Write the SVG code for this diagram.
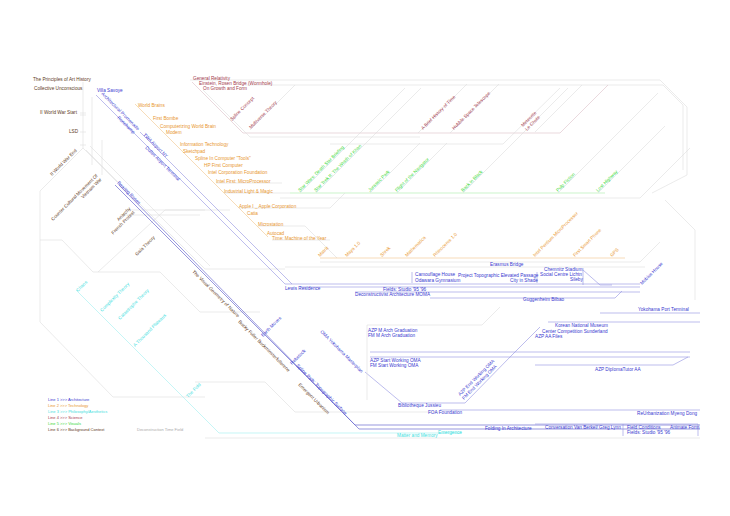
<svg xmlns="http://www.w3.org/2000/svg" width="730" height="516" viewBox="0 0 730 516">
<style>
text{font-family:"Liberation Sans",Arial,sans-serif;font-size:4.7px}
.b{fill:#3838d0}.o{fill:#e8962e}.c{fill:#40e0e0}.s{fill:#a33a4c}.g{fill:#38d838}.k{fill:#603a1c}.n{fill:#aaaaaa}
.lg{font-size:4px}
.gl{stroke:#dedede;stroke-width:0.6;fill:none}
.bl{stroke:#9090e0;stroke-width:0.6;fill:none}
.bd{stroke:#6a6ad0;stroke-width:0.7;fill:none}
.ol{stroke:#f2c48a;stroke-width:0.6;fill:none}
.cl{stroke:#a0f0f0;stroke-width:0.6;fill:none}
.sl{stroke:#dcc0c8;stroke-width:0.6;fill:none}
.grl{stroke:#a8eca8;stroke-width:0.6;fill:none}
</style>
<rect width="730" height="516" fill="#ffffff"/>
<g id="connectors">
<path class="gl" d="M83,82 V148 L40,191 V322 L113,397 H205"/>
<path class="gl" d="M83,148 L117,182 M92,97 V165 M102,140 V175"/>
<path class="gl" d="M80,113 H86 M80,115 H86 M80,132 H86 M80,145 H86"/>
<path class="gl" d="M40,240 H62 L93,272 H160 L200,312 H260"/>
<path class="gl" d="M98,272 L165,210 H230 M120,215 H200 M125,210 H205"/>
<path class="gl" d="M86,150 L205,269 H285 M90,146 L210,266"/>
<path class="gl" d="M190,80 H660 L687,107 V175 L652,193"/>
<path class="gl" d="M245,85 H663 L683,105 V170"/>
<path class="sl" d="M192,82 L243,133 H560 L608,85"/>
<path class="gl" d="M203,90 L250,137 H420"/>
<path class="gl" d="M250,130 L295,85 M418,133 L467,84 M450,133 L499,84 M535,132 L582,85"/>
<path class="gl" d="M330,144 H503 L560,88"/>
<path class="grl" d="M290,193 H605"/>
<path class="gl" d="M300,193 L405,88 M316,193 L421,88 M370,193 L420,143 M397,193 L447,143 M463,193 L568,88 M558,193 L658,93 M598,193 L665,126"/>
<path class="gl" d="M280,198 H640 L690,148"/>
<path class="ol" d="M135,104 L268,237"/>
<path class="gl" d="M224,193 H290 M216,183 H282 M239,208 H330 L345,193 M258,226 H305 L337,258 M272,240 H330"/>
<path class="ol" d="M320,258 H625"/>
<path class="gl" d="M320,262 H640 L660,242 M285,267 H645 M665,200 L695,230 V300"/>
<path class="bl" d="M96,95 L285,284 H640"/>
<path class="bl" d="M140,132 L292,284"/>
<path class="bd" d="M115,185 L355,425 H700 M119,185 L359,429 H700"/>
<path class="bl" d="M300,287 H640 M355,292 H640 M430,298 H615 L622,291 M600,313 H700 M548,322 H700 M370,352 H690 M370,357 H690 M535,365 H673 L688,357 M440,410 H700"/>
<path class="bl" d="M412,272 V283 M537,272 V283 M583,268 V285 M583,270 L600,285 H612"/>
<path class="bl" d="M365,372 L402,403 H465 L512,355 L540,327"/>
<path class="gl" d="M367,325 H482 L500,307 M367,325 V400"/>
<path class="gl" d="M195,382 H265 L295,412 H440"/>
<path class="cl" d="M76,290 L219,433 H462"/>
<path class="gl" d="M205,438 H700"/>
<path class="bl" d="M623,424 V436 M698,424 V436 M535,424 H698"/>
</g>
<g id="n-context">
<text class="k" x="33" y="81">The Principles of Art History</text>
<text class="k" x="34" y="90">Collective Unconscious</text>
<text class="k" x="40" y="114">II World War Start</text>
<text class="k" x="69" y="133">LSD</text>
<text class="k" transform="translate(52,176) rotate(-45)">II World War End</text>
<g transform="translate(98,176) rotate(-45)"><text class="k" text-anchor="end">Counter Cultural Movement Of</text><text class="k" text-anchor="end" y="5.5">Vietnam War</text></g>
<g transform="translate(131,209) rotate(-45)"><text class="k" text-anchor="end">Anarchy</text><text class="k" text-anchor="end" y="5.5">French Protest</text></g>
<text class="k" transform="translate(137,256) rotate(-45)">Gaia Theory</text>
<text class="k" transform="translate(192,272) rotate(45)">The Visual Geometry of Nature</text>
<text class="k" transform="translate(238,322) rotate(45)">Bucky Fuller Buckminsterfullerene</text>
<text class="k" transform="translate(298,385) rotate(45)">Emergent Urbanism</text>
</g>
<g id="n-science">
<text class="s" x="193" y="80">General Relativity</text>
<text class="s" x="199" y="85">Einstein, Rosen Bridge (Wormhole)</text>
<text class="s" x="203" y="90">On Growth and Form</text>
<text class="s" transform="translate(232,121) rotate(-45)">Spline Concept</text>
<text class="s" transform="translate(251,129) rotate(-45)">Multiverse Theory</text>
<text class="s" transform="translate(423,130) rotate(-45)">A Brief History of Time</text>
<text class="s" transform="translate(454,130) rotate(-45)">Hubble Space Telescope</text>
<g transform="translate(523,127) rotate(-45)"><text class="s">Meteorite</text><text class="s" y="5.5">Le Chute</text></g>
</g>
<g id="n-tech">
<text class="o" x="138" y="107">World Brains</text>
<text class="o" x="153" y="120">First Bombe</text>
<text class="o" x="160" y="128">Computerizing World Brain</text>
<text class="o" x="166" y="134">Modem</text>
<text class="o" x="180" y="146">Information Technology</text>
<text class="o" x="183" y="153">Sketchpad</text>
<text class="o" x="195" y="160">Spline In Computer "Tools"</text>
<text class="o" x="204" y="167">HP First Computer</text>
<text class="o" x="208" y="174">Intel Corporation Foundation</text>
<text class="o" x="216" y="183">Intel First: MicroProcessor</text>
<text class="o" x="224" y="193">Industrial Light &amp; Magic</text>
<text class="o" x="239" y="208">Apple I _ Apple Corporation</text>
<text class="o" x="247" y="215">Catia</text>
<text class="o" x="258" y="226">Microstation</text>
<text class="o" x="267" y="235">Autocad</text>
<text class="o" x="272" y="240">Time: Machine of the Year</text>
<text class="o" transform="translate(320,257) rotate(-45)">Matrix</text>
<text class="o" transform="translate(347,257) rotate(-45)">Maya 1.0</text>
<text class="o" transform="translate(382,257) rotate(-45)">Shrek</text>
<text class="o" transform="translate(407,257) rotate(-45)">Mathematica</text>
<text class="o" transform="translate(435,257) rotate(-45)">Rhinoceros 1.0</text>
<text class="o" transform="translate(535,257) rotate(-45)">Intel Pentium MicroProcessor</text>
<text class="o" transform="translate(575,257) rotate(-45)">First Smart Phone</text>
<text class="o" transform="translate(612,257) rotate(-45)">GPS</text>
</g>
<g id="n-visuals">
<text class="g" transform="translate(300,192) rotate(-45)">Star Wars: Death Star Briefing</text>
<text class="g" transform="translate(316,192) rotate(-45)">Star Trek II: The Wrath of Khan</text>
<text class="g" transform="translate(370,192) rotate(-45)">Jurassic Park</text>
<text class="g" transform="translate(397,192) rotate(-45)">Flight of the Navigator</text>
<text class="g" transform="translate(463,192) rotate(-45)">Back in Black</text>
<text class="g" transform="translate(558,192) rotate(-45)">Pulp Fiction</text>
<text class="g" transform="translate(598,192) rotate(-45)">Lost Highway</text>
</g>
<g id="n-arch">
<text class="b" x="97" y="92">Villa Savoye</text>
<text class="b" transform="translate(101,94) rotate(45)">Architectural Promenade</text>
<text class="b" transform="translate(117,118) rotate(45)">Ronchamp</text>
<text class="b" transform="translate(143,135) rotate(45)">TWA Airport NY</text>
<text class="b" transform="translate(145,148) rotate(45)">Dulles Airport Terminal</text>
<text class="b" transform="translate(117,183) rotate(45)">Bearing Roses</text>
<text class="b" x="285" y="290">Lewis Residence</text>
<text class="b" x="383" y="291">Fields: Studio '95 '96</text>
<text class="b" x="355" y="296">Deconstructivist Architecture MOMA</text>
<text class="b" x="415" y="276">Camouflage House</text>
<text class="b" x="415" y="282">Odawara Gymnasium</text>
<text class="b" x="458" y="277">Project Topographic Elevated Passage</text>
<text class="b" x="510" y="282">City in Shade</text>
<text class="b" x="490" y="266">Erasmus Bridge</text>
<text class="b" x="544" y="271">Chemnitz Stadium</text>
<text class="b" x="540" y="276">Social Centre Lichtn</text>
<text class="b" x="570" y="281">Sileby</text>
<text class="b" x="523" y="301">Guggenheim Bilbao</text>
<text class="b" transform="translate(642,285) rotate(-45)">Mobius House</text>
<text class="b" x="638" y="311">Yokohama Port Terminal</text>
<text class="b" x="555" y="327">Korean National Museum</text>
<text class="b" x="542" y="333">Center Competition Sunderland</text>
<text class="b" x="535" y="338">AZP AA Files</text>
<text class="b" x="595" y="371">AZP DiplomaTutor AA</text>
<text class="b" x="368" y="332">AZP M Arch Graduation</text>
<text class="b" x="368" y="337">FM M Arch Graduation</text>
<text class="b" x="370" y="362">AZP Start Working OMA</text>
<text class="b" x="370" y="367">FM Start Working OMA</text>
<g transform="translate(460,396) rotate(-45)"><text class="b">AZP End Working OMA</text><text class="b" y="5.5">FM End Working OMA</text></g>
<text class="b" x="398" y="407">Bibliotheque Jussieu</text>
<text class="b" x="428" y="414">FOA Foundation</text>
<text class="b" x="485" y="430">Folding In Architecture</text>
<text class="b" x="637" y="415">ReUrbanization Myeng Dong</text>
<text class="b" x="545" y="429">Conversation Van Berkel/ Greg Lynn</text>
<text class="b" x="627" y="429">Field Conditions</text>
<text class="b" x="627" y="434">Fields: Studio '95 '96</text>
<text class="b" x="670" y="429">Animate Form</text>
<text class="b" transform="translate(263,337) rotate(-45)">Earth Moves</text>
<text class="b" transform="translate(320,332) rotate(45)">OMA Yokohama Masterplan</text>
<text class="b" transform="translate(292,365) rotate(-45)">Rebstock</text>
<text class="b" transform="translate(296,366) rotate(45)">Spline Path: Topographic Surface</text>
</g>
<g id="n-phil">
<text class="c" transform="translate(78,292) rotate(-45)">Chaos</text>
<text class="c" transform="translate(102,312) rotate(-45)">Complexity Theory</text>
<text class="c" transform="translate(120,320) rotate(-45)">Catastrophe Theory</text>
<text class="c" transform="translate(135,347) rotate(-45)">A Thousand Plateaus</text>
<text class="c" transform="translate(188,398) rotate(-45)">The Fold</text>
<text class="c" x="397" y="437">Matter and Memory</text>
<text class="c" x="438" y="434">Emergence</text>
</g>
<g id="legend">
<text class="b lg" x="48" y="401">Line 1 &gt;&gt;&gt; Architecture</text>
<text class="o lg" x="48" y="407">Line 2 &gt;&gt;&gt; Technology</text>
<text class="c lg" x="48" y="413">Line 3 &gt;&gt;&gt; Philosophy/Aesthetics</text>
<text class="s lg" x="48" y="419">Line 4 &gt;&gt;&gt; Science</text>
<text class="g lg" x="48" y="425">Line 5 &gt;&gt;&gt; Visuals</text>
<text class="k lg" x="48" y="431">Line 6 &gt;&gt;&gt; Background Context</text>
<text class="n lg" x="137" y="431">Deconstruction Time Field</text>
</g>
</svg>
